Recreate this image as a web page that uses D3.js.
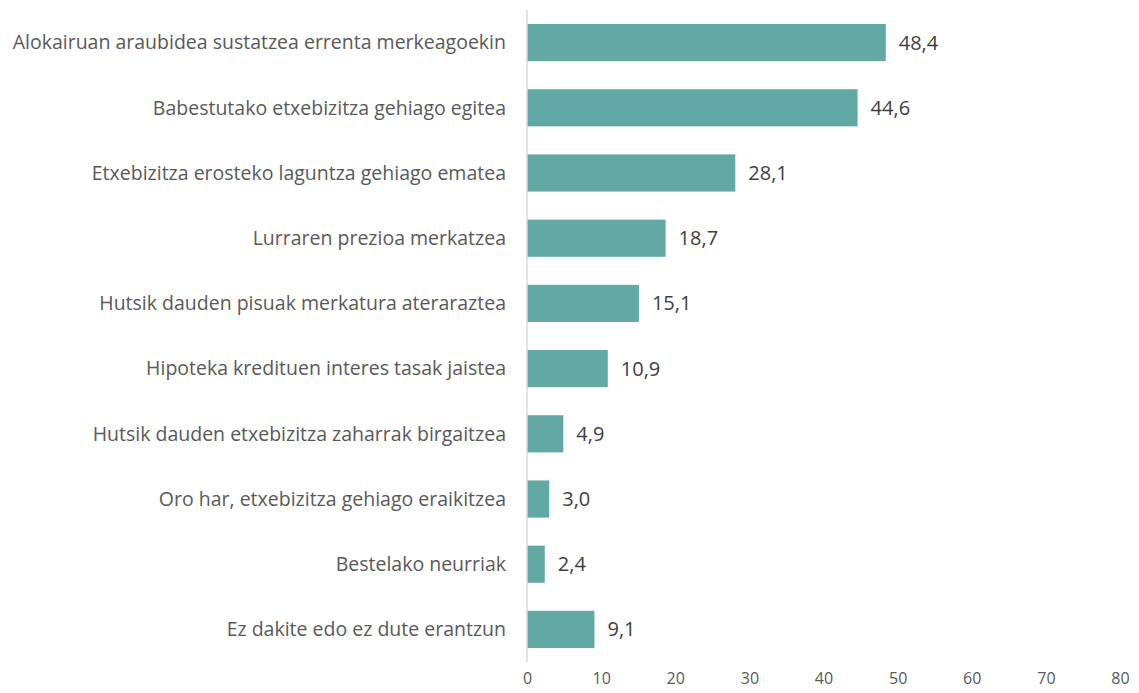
<!DOCTYPE html>
<html>
<head>
<meta charset="utf-8">
<script src="https://cdn.jsdelivr.net/npm/d3@7"></script>
<style>
  body { margin: 0; background: #fff; }
  svg text { font-family: "Open Sans", "Liberation Sans", sans-serif; }
</style>
</head>
<body>
<div id="chart"></div>
<script>
// Data
const categories = [
  "Alokairuan araubidea sustatzea errenta merkeagoekin",
  "Babestutako etxebizitza gehiago egitea",
  "Etxebizitza erosteko laguntza gehiago ematea",
  "Lurraren prezioa merkatzea",
  "Hutsik dauden pisuak merkatura ateraraztea",
  "Hipoteka kredituen interes tasak jaistea",
  "Hutsik dauden etxebizitza zaharrak birgaitzea",
  "Oro har, etxebizitza gehiago eraikitzea",
  "Bestelako neurriak",
  "Ez dakite edo ez dute erantzun"
];
const values = [48.4, 44.6, 28.1, 18.7, 15.1, 10.9, 4.9, 3.0, 2.4, 9.1];
const xTicks = [0, 10, 20, 30, 40, 50, 60, 70, 80];

const drawChart = () => {
  const width = 1139;
  const height = 693;
  const left = 527;
  const right = 1120;

  const svg = d3.select("#chart")
                .append("svg")
                .attr("width", width)
                .attr("height", height);

  const xScale = d3.scaleLinear()
                   .domain([0, 80])
                   .range([left, right]);

  const yScale = d3.scaleBand()
                   .domain(categories)
                   .range([10, 662])
                   .paddingInner(0.43)
                   .paddingOuter(0.215);

  svg.selectAll("rect")
     .data(values)
     .enter()
     .append("rect")
     .attr("x", xScale(0))
     .attr("y", (d, i) => yScale(categories[i]))
     .attr("width", (d) => xScale(d) - xScale(0))
     .attr("height", yScale.bandwidth())
     .attr("fill", "#62a9a6");

  // vertical axis line
  svg.append("line")
     .attr("x1", xScale(0)).attr("x2", xScale(0))
     .attr("y1", 10).attr("y2", 662)
     .attr("stroke", "#d9d9d9")
     .attr("stroke-width", 1.5);

  // category labels
  svg.selectAll(".cat")
     .data(categories)
     .enter()
     .append("text")
     .attr("class", "cat")
     .attr("x", xScale(0) - 21)
     .attr("y", (d) => yScale(d) + yScale.bandwidth() / 2)
     .attr("dy", "0.35em")
     .attr("text-anchor", "end")
     .attr("fill", "#595959")
     .style("font-size", "19.5px")
     .text((d) => d);

  // value labels
  svg.selectAll(".val")
     .data(values)
     .enter()
     .append("text")
     .attr("class", "val")
     .attr("x", (d) => xScale(d) + 13)
     .attr("y", (d, i) => yScale(categories[i]) + yScale.bandwidth() / 2)
     .attr("dy", "0.35em")
     .attr("fill", "#404040")
     .style("font-size", "20px")
     .text((d) => d3.format(".1f")(d).replace(".", ","));

  // x axis ticks
  const xAxis = d3.axisBottom(xScale)
                  .tickValues(xTicks)
                  .tickSize(0)
                  .tickPadding(0);

  const gx = svg.append("g")
                .attr("transform", "translate(0,673)")
                .call(xAxis);
  gx.select(".domain").remove();
  gx.selectAll("text")
    .attr("fill", "#595959")
    .style("font-size", "16px")
    .style("font-family", "'Open Sans', 'Liberation Sans', sans-serif");
}

drawChart();
</script>
</body>
</html>
